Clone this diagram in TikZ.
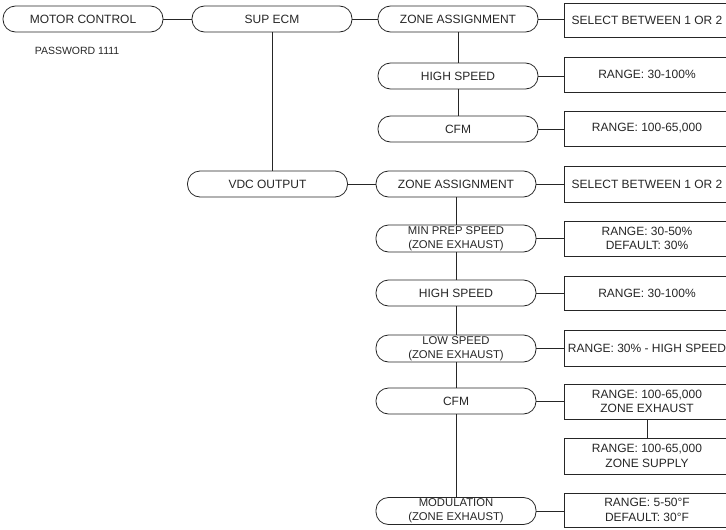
\documentclass[tikz,border=0pt]{standalone}
\usepackage{fontspec}
\setmainfont{Liberation Sans}
\begin{document}
\begin{tikzpicture}[x=1pt,y=-1pt,
  every node/.style={text=black!85},
  pill/.style={draw=black!85, line width=0.8pt, rounded corners=12.5pt, minimum width=160pt, minimum height=26pt, inner sep=0pt, font=\fontsize{12}{14}\selectfont, align=center},
  pilltwo/.style={pill, minimum height=27pt, font=\fontsize{11.3}{13.8}\selectfont},
  valbox/.style={draw=black!85, line width=0.8pt, minimum width=166pt, minimum height=35pt, inner sep=0pt, font=\fontsize{12}{14.5}\selectfont, align=center},
  conn/.style={draw=black!85, line width=0.8pt}]
\clip (0,0) rectangle (726,530);
% left column
\node[pill] (mc) at (83,19) {MOTOR CONTROL};
\node[font=\fontsize{10.5}{12}\selectfont] (pw) at (77,51) {PASSWORD 1111};
\node[pill] (sup) at (272,19) {SUP ECM};
\node[pill] (vdc) at (267.5,184) {VDC OUTPUT};
% middle column, top group
\node[pill] (za1) at (458,19) {ZONE ASSIGNMENT};
\node[pill] (hs1) at (458,76) {HIGH SPEED};
\node[pill] (cfm1) at (458,129) {CFM};
% middle column, bottom group
\node[pill] (za2) at (456,184) {ZONE ASSIGNMENT};
\node[pilltwo] (mp) at (456,238.5) {MIN PREP SPEED\\(ZONE EXHAUST)};
\node[pill] (hs2) at (456,293) {HIGH SPEED};
\node[pilltwo] (ls) at (456,348.5) {LOW SPEED\\(ZONE EXHAUST)};
\node[pill] (cfm2) at (456,401) {CFM};
\node[pilltwo] (mod) at (456,511) {MODULATION\\(ZONE EXHAUST)};
% right column
\node[valbox, minimum height=34pt] (b1) at (647,20) {SELECT BETWEEN 1 OR 2};
\node[valbox] (b2) at (647,74.5) {RANGE: 30-100\%};
\node[valbox] (b3) at (647,128.5) {RANGE: 100-65,000};
\node[valbox, minimum height=36pt] (b4) at (647,184) {SELECT BETWEEN 1 OR 2};
\node[valbox] (b5) at (647,238.5) {RANGE: 30-50\%\\DEFAULT: 30\%};
\node[valbox, minimum height=34pt] (b6) at (647,293) {RANGE: 30-100\%};
\node[valbox, minimum height=36pt] (b7) at (647,348) {RANGE: 30\% - HIGH SPEED};
\node[valbox] (b8) at (647,401.5) {RANGE: 100-65,000\\ZONE EXHAUST};
\node[valbox, minimum height=36pt] (b9) at (647,456) {RANGE: 100-65,000\\ZONE SUPPLY};
\node[valbox, minimum height=34pt] (b10) at (647,510) {RANGE: 5-50°F\\DEFAULT: 30°F};
% connectors
\draw[conn] (mc.east) -- (sup.west);
\draw[conn] (sup.east) -- (sup.east -| za1.west);
\draw[conn] (sup.south) -- (sup.south |- vdc.north);
\draw[conn] (vdc.east) -- (za2.west);
\draw[conn] (za1.east) -- (za1.east -| b1.west);
\draw[conn] (hs1.east) -- (hs1.east -| b2.west);
\draw[conn] (cfm1.east) -- (cfm1.east -| b3.west);
\draw[conn] (za1.south) -- (hs1.north);
\draw[conn] (hs1.south) -- (cfm1.north);
\draw[conn] (za2.east) -- (za2.east -| b4.west);
\draw[conn] (mp.east) -- (mp.east -| b5.west);
\draw[conn] (hs2.east) -- (hs2.east -| b6.west);
\draw[conn] (ls.east) -- (ls.east -| b7.west);
\draw[conn] (cfm2.east) -- (cfm2.east -| b8.west);
\draw[conn] (mod.east) -- (mod.east -| b10.west);
\draw[conn] (za2.south) -- (mp.north);
\draw[conn] (mp.south) -- (hs2.north);
\draw[conn] (hs2.south) -- (ls.north);
\draw[conn] (ls.south) -- (cfm2.north);
\draw[conn] (cfm2.south) -- (mod.north);
\draw[conn] (b8.south) -- (b9.north);
\end{tikzpicture}
\end{document}
